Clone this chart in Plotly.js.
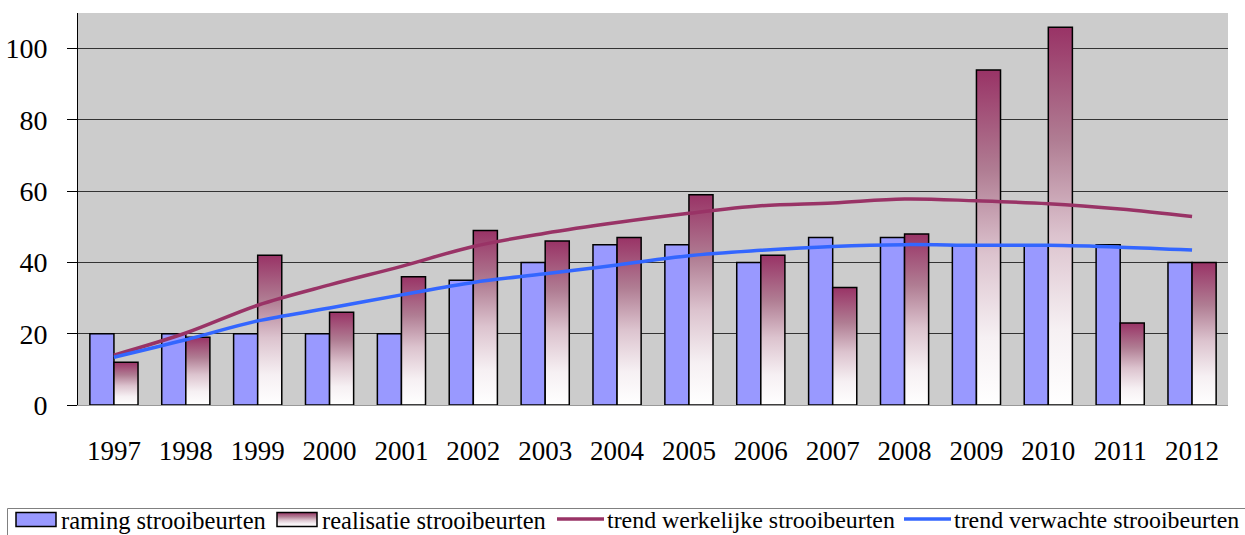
<!DOCTYPE html>
<html>
<head>
<meta charset="utf-8">
<script src="https://cdn.plot.ly/plotly-3.0.1.min.js"></script>
<style>
html,body{margin:0;padding:0;background:#fff;}
#chart{width:1245px;height:535px;}
</style>
</head>
<body>
<div id="chart"></div>
<script>
const years = ["1997","1998","1999","2000","2001","2002","2003","2004","2005","2006","2007","2008","2009","2010","2011","2012"];
const raming = [20,20,20,20,20,35,40,45,45,40,47,47,45,45,45,40];
const realisatie = [12,19,42,26,36,49,46,47,59,42,33,48,94,106,23,40];
const trendWerkelijk = [14.0,20.2,28.0,33.7,38.9,44.5,48.2,51.2,53.8,55.9,56.7,57.8,57.3,56.5,55.0,52.9];
const trendVerwacht = [13.4,18.3,23.6,27.2,30.9,34.4,36.8,39.3,41.9,43.4,44.5,45.0,44.8,44.8,44.3,43.5];
const names = ["raming strooibeurten","realisatie strooibeurten","trend werkelijke strooibeurten","trend verwachte strooibeurten"];
const yTicks = [0,20,40,60,80,100];

const serif = "Liberation Serif, Times New Roman, serif";
const legendTextX = [62, 323, 608, 955];   // where each legend entry's text starts (px)
const legendFont = [24.5, 24.5, 23.9, 23.9];
const legendTop = 497;

const traces = [
  {type:"bar", name:names[0], x:years, y:raming, legend:"legend",
   marker:{color:"#9999ff", line:{color:"#000000", width:1.5}}},
  {type:"bar", name:names[1], x:years, y:realisatie, legend:"legend2",
   marker:{color:"#c08aa3", line:{color:"#000000", width:1.5}}},
  {type:"scatter", mode:"lines", name:names[2], x:years, y:trendWerkelijk, legend:"legend3",
   line:{color:"#993366", width:3.5, shape:"spline"}},
  {type:"scatter", mode:"lines", name:names[3], x:years, y:trendVerwacht, legend:"legend4",
   line:{color:"#3366ff", width:3.5, shape:"spline"}}
];
function legendAt(i){
  return {orientation:"h", xref:"container", yref:"container",
    x:(legendTextX[i]-51)/1245, xanchor:"left", y:(535-legendTop)/535, yanchor:"top",
    bgcolor:"rgba(0,0,0,0)", borderwidth:0,
    font:{family:serif, size:legendFont[i], color:"#000"}, itemwidth:40};
}
const layout = {
  width:1245, height:535,
  margin:{l:78, r:17, t:13, b:130, autoexpand:false},
  paper_bgcolor:"#ffffff",
  plot_bgcolor:"#cccccc",
  font:{family:serif, color:"#000000"},
  barmode:"group", bargap:0.33, bargroupgap:0,
  showlegend:true,
  legend:legendAt(0), legend2:legendAt(1), legend3:legendAt(2), legend4:legendAt(3),
  shapes:[{type:"rect", xref:"paper", yref:"paper", layer:"below",
    x0:(7.5-78)/1150, x1:1.1, y0:(405-508.5)/392, y1:-0.5,
    line:{color:"#808080", width:1}, fillcolor:"rgba(0,0,0,0)"}],
  xaxis:{type:"category", tickvals:years, ticktext:years, ticks:"", showgrid:false,
    showline:true, linecolor:"#999999", linewidth:1, zeroline:false,
    tickfont:{family:serif, size:27}, ticklabelstandoff:22, fixedrange:true},
  yaxis:{range:[0,110], tickvals:yTicks, ticktext:yTicks.map(String),
    ticks:"outside", ticklen:10, tickcolor:"#000", tickwidth:1,
    showline:true, linecolor:"#000", linewidth:1, showgrid:true,
    gridcolor:"#333333", gridwidth:1, zeroline:false,
    tickfont:{family:serif, size:28}, ticklabelstandoff:14, fixedrange:true}
};

function addGradient(gd){
  if (document.getElementById("realGrad")) return;
  const svgNS = "http://www.w3.org/2000/svg";
  const defs = gd.querySelector("svg.main-svg defs");
  if (!defs) return;
  const grad = document.createElementNS(svgNS, "linearGradient");
  grad.setAttribute("id","realGrad");
  grad.setAttribute("x1","0"); grad.setAttribute("y1","0");
  grad.setAttribute("x2","0"); grad.setAttribute("y2","1");
  [["0","#993366"],["0.3","#b07d93"],["0.55","#dcc3ce"],["0.8","#f6f0f3"],["1","#ffffff"]].forEach(function(s){
    const st = document.createElementNS(svgNS,"stop");
    st.setAttribute("offset", s[0]); st.setAttribute("stop-color", s[1]);
    grad.appendChild(st);
  });
  defs.appendChild(grad);
}
function traceIndexOf(g){
  const d = g.__data__;
  let tr = null;
  if (Array.isArray(d) && d[0] && d[0].trace) tr = d[0].trace;
  else if (d && d.trace) tr = d.trace;
  if (tr) return names.indexOf(tr.name);
  const txt = g.querySelector("text");
  return txt ? names.indexOf(txt.textContent.trim()) : -1;
}
function restyleDom(gd){
  addGradient(gd);
  const barTraces = gd.querySelectorAll(".barlayer .trace");
  if (barTraces[1]) barTraces[1].querySelectorAll("path").forEach(function(p){ p.style.fill = "url(#realGrad)"; });
  gd.querySelectorAll("g.traces").forEach(function(t){
    const i = traceIndexOf(t);
    if (i < 0) return;
    const txt = t.querySelector("text");
    if (!txt) return;
    const tr = txt.getBoundingClientRect();
    if (!tr.width) return;
    const paths = i < 2 ? t.querySelectorAll("g.legendpoints path") : t.querySelectorAll("g.legendlines path");
    paths.forEach(function(p){
      const r = p.getBoundingClientRect();
      const bb = p.getBBox();
      const curCx = (r.left + r.right)/2;
      const lcx = bb.x + bb.width/2, lcy = bb.y + bb.height/2;
      const targetCx = tr.left - (i < 2 ? 25 : 27);
      const cx = Math.round((lcx + (targetCx - curCx))*2)/2;
      const cy = Math.round(lcy*2)/2;
      if (i < 2) {
        p.setAttribute("d", "M" + (cx-20) + "," + (cy-7) + "h40v14h-40Z");
        p.style.fill = i === 1 ? "url(#realGrad)" : "#9999ff";
        p.style.stroke = "#000"; p.style.strokeWidth = "1.5px";
      } else {
        p.setAttribute("d", "M" + (cx-24) + "," + cy + "h48");
      }
    });
  });
}
Plotly.newPlot("chart", traces, layout, {staticPlot:true, displayModeBar:false}).then(function(gd){
  restyleDom(gd);
  requestAnimationFrame(function(){ restyleDom(gd); });
  let n = 0;
  const iv = setInterval(function(){ restyleDom(gd); if (++n > 60) clearInterval(iv); }, 25);
});
</script>
</body>
</html>
